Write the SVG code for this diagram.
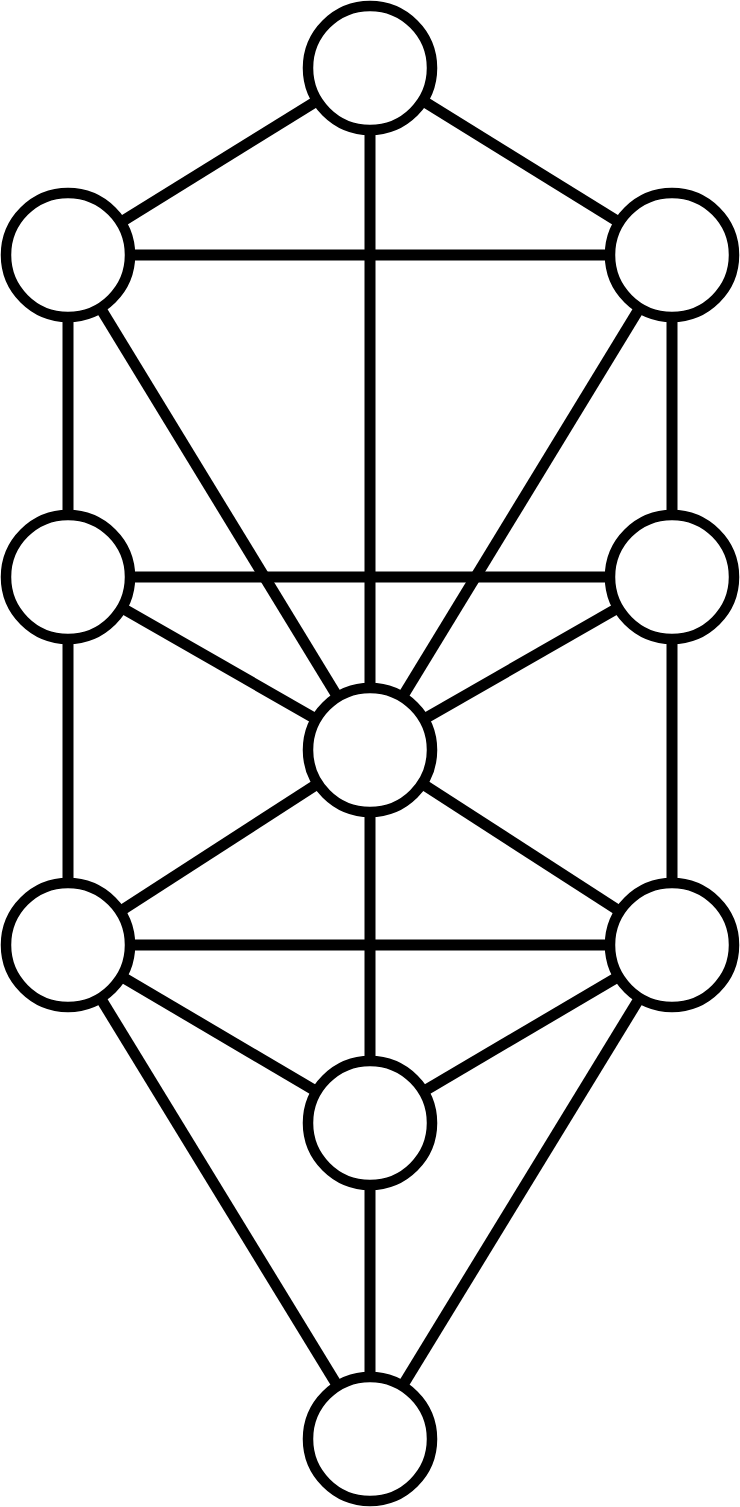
<svg xmlns="http://www.w3.org/2000/svg" width="740" height="1507" viewBox="0 0 740 1507">
<style>
.c line{stroke:#000;stroke-width:11;}
.n circle{fill:#fff;stroke:#000;stroke-width:10.5;}
</style>
<rect width="740" height="1507" fill="#fff"/>
<g class="c" id="connectors">
<line x1="370" y1="68" x2="672" y2="255"/>
<line x1="370" y1="68" x2="68" y2="255"/>
<line x1="370" y1="68" x2="370" y2="750"/>
<line x1="68" y1="255" x2="672" y2="255"/>
<line x1="68" y1="255" x2="68" y2="945"/>
<line x1="672" y1="255" x2="672" y2="945"/>
<line x1="68" y1="255" x2="370" y2="750"/>
<line x1="672" y1="255" x2="370" y2="750"/>
<line x1="68" y1="577" x2="672" y2="577"/>
<line x1="68" y1="577" x2="370" y2="750"/>
<line x1="672" y1="577" x2="370" y2="750"/>
<line x1="68" y1="945" x2="370" y2="750"/>
<line x1="672" y1="945" x2="370" y2="750"/>
<line x1="68" y1="945" x2="672" y2="945"/>
<line x1="370" y1="750" x2="370" y2="1439"/>
<line x1="68" y1="945" x2="370" y2="1123"/>
<line x1="672" y1="945" x2="370" y2="1123"/>
<line x1="68" y1="945" x2="370" y2="1439"/>
<line x1="672" y1="945" x2="370" y2="1439"/>
</g>
<g class="n">
<g id="kether"><circle cx="370" cy="68" r="62"/></g>
<g id="chokmah"><circle cx="672" cy="255" r="62"/></g>
<g id="binah"><circle cx="68" cy="255" r="62"/></g>
<g id="chesed"><circle cx="672" cy="577" r="62"/></g>
<g id="geburah"><circle cx="68" cy="577" r="62"/></g>
<g id="tiphareth"><circle cx="370" cy="750" r="62"/></g>
<g id="netzach"><circle cx="672" cy="945" r="62"/></g>
<g id="hod"><circle cx="68" cy="945" r="62"/></g>
<g id="yesod"><circle cx="370" cy="1123" r="62"/></g>
<g id="malkuth"><circle cx="370" cy="1439" r="62"/></g>
</g>
</svg>
